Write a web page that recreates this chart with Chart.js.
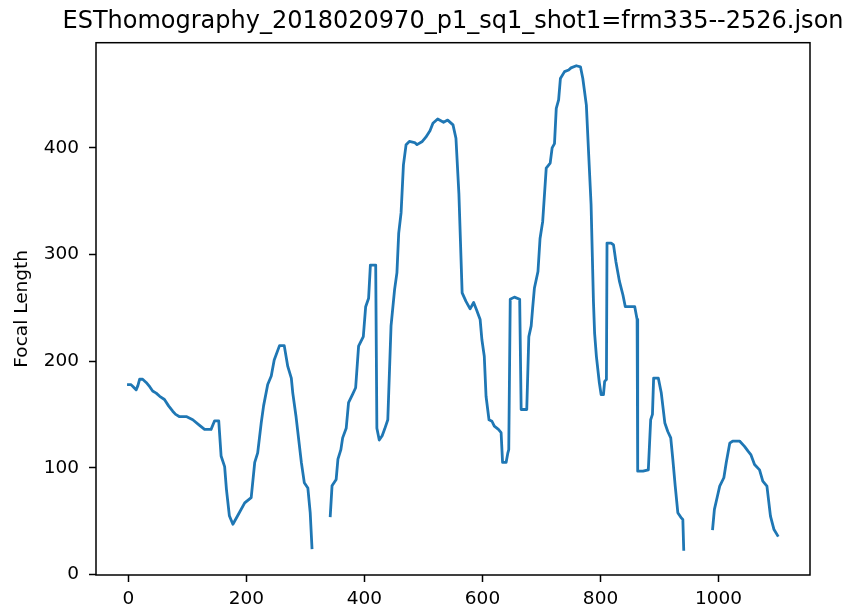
<!DOCTYPE html>
<html>
<head>
<meta charset="utf-8">
<script src="https://cdn.jsdelivr.net/npm/chart.js@4"></script>
<style>
  body { margin: 0; background: #fff; }
  canvas { display: block; }
</style>
</head>
<body>
<canvas id="focalChart" width="849" height="609"></canvas>
<script>
// frame index / focal length, null marks a gap in the track
const frames = [
  0, 4, 8, 13, 16, 19, 24, 30, 36, 41, 47, 53, 61, 68, 75, 80, 86, 98, 109, 120,
  129, 140, 146, 153, 157, 163, 166, 171, 177, 185, 197, 208, 214, 219, 225, 229,
  236, 242, 247, 256, 264, 270, 276, 278.5, 284, 293, 298, 304, 308, 311,
  325,
  342, 345, 352, 355, 360, 363, 369, 373, 380, 385, 390, 398, 402, 407, 410, 419,
  421, 425, 430, 434, 439.5, 445, 451, 455, 458, 462, 466, 470.5, 476, 485, 489,
  498, 504, 511, 516, 524, 534, 541, 550, 555, 560, 565.5, 572, 579, 585, 590,
  596, 599, 603, 606, 611, 616, 620, 627, 631.5, 634, 640, 643, 644.5, 647, 654,
  663, 665.5, 675, 678.5, 682.5, 685, 688, 694, 697.5, 702, 708, 714.7, 718, 722,
  725, 729, 732, 739, 746, 750, 759, 766, 770, 776, 780, 784, 788, 790, 793, 798,
  801, 805, 807, 810, 811, 818, 822, 826, 832, 838, 842, 858, 862, 863, 872, 881,
  885, 888, 890, 898, 903, 909, 914, 919, 922.5, 926.6, 931, 936.7, 939.5, 941,
  965,
  990, 993, 998, 1002, 1009, 1013, 1019, 1024, 1035.6, 1044, 1050, 1055, 1061,
  1069.5, 1075, 1082, 1088, 1094, 1100
];
const focalLength = [
  178, 178, 176, 173, 177, 183, 183, 180, 176, 172, 170, 167, 164, 158, 153, 150, 148, 148, 145, 140,
  136, 136, 144, 144, 111, 101, 80, 55, 47, 55, 67, 72, 105, 114, 142, 158,
  178, 186, 201, 214.5, 214.5, 195, 184, 170, 148, 105, 86, 81, 58, 25,
  null,
  55, 83, 89, 108, 117, 128, 137, 161, 169, 175, 214, 223, 251, 259, 290, 290,
  137, 126, 130, 136, 145, 233, 267, 283, 320, 339, 384, 403, 406, 405, 403,
  406, 410, 416, 423, 427, 424, 426, 421.5, 409, 357, 264, 256, 249, 255, 248,
  239, 220, 204.5, 167, 145, 143.6, 139, 136, 133, 105, 105, 114, 117, 258, 260,
  258, 154.6, 154.6, 223, 233, 250, 268.6, 284, 315, 331, 381, 385.6, 400, 404,
  437, 445, 465, 471.5, 473, 475, 477, 476, 465, 440, 393, 346.6, 256, 226, 204.5, 179.6,
  168.6, 168.6, 181, 182.7, 310.7, 310.7, 309, 293.5, 275, 262, 251, 251, 239, 96.8, 96.8, 98,
  145, 150, 184, 184, 170, 142, 134, 128, 108, 82.7, 57.8, 53, 51.5, 23.4,
  null,
  42.8, 61, 73, 82.7, 90.6, 104.6, 123, 125, 125, 120, 115.5, 112, 103,
  98, 87.4, 82.7, 54.6, 42, 36.5
];
const xTicks = [0, 200, 400, 600, 800, 1000];
const yTicks = [0, 100, 200, 300, 400];
const chartTitle = 'ESThomography_2018020970_p1_sq1_shot1=frm335--2526.json';

const points = frames.map((f, i) => ({ x: f, y: focalLength[i] }));

// matplotlib style box around the plot area + title centred over the axes
const frameBox = {
  id: 'frameBox',
  afterDraw(chart) {
    const { ctx, chartArea: a } = chart;
    ctx.save();
    ctx.strokeStyle = '#000';
    ctx.lineWidth = 1.5;
    ctx.strokeRect(a.left, a.top, a.right - a.left, a.bottom - a.top);
    ctx.fillStyle = '#000';
    ctx.font = '24px "DejaVu Sans"';
    ctx.textAlign = 'center';
    ctx.textBaseline = 'alphabetic';
    ctx.fillText(chartTitle, (a.left + a.right) / 2, a.top - 14.4);
    ctx.restore();
  }
};

const tickFont = { family: 'DejaVu Sans', size: 18.5 };

new Chart(document.getElementById('focalChart').getContext('2d'), {
  type: 'line',
  data: {
    datasets: [{
      data: points,
      borderColor: '#1f77b4',
      borderWidth: 2.8,
      borderJoinStyle: 'round',
      borderCapStyle: 'square',
      pointRadius: 0,
      tension: 0,
      spanGaps: false,
      fill: false
    }]
  },
  options: {
    responsive: false,
    animation: false,
    layout: { padding: { left: 0, right: 39, top: 42.7, bottom: 0 } },
    plugins: {
      legend: { display: false },
      tooltip: { enabled: false },
      title: { display: false }
    },
    scales: {
      x: {
        type: 'linear',
        min: -55,
        max: 1155,
        afterBuildTicks: s => { s.ticks = xTicks.map(v => ({ value: v })); },
        afterFit: s => { s.height = 34; },
        grid: { drawOnChartArea: false, tickLength: 7, tickColor: '#000', tickWidth: 1.5 },
        border: { display: false },
        ticks: { color: '#000', font: tickFont, padding: 6, maxRotation: 0, callback: v => String(v) }
      },
      y: {
        min: -0.6,
        max: 498.6,
        afterBuildTicks: s => { s.ticks = yTicks.map(v => ({ value: v })); },
        afterFit: s => { s.width = 96; },
        grid: { drawOnChartArea: false, tickLength: 7, tickColor: '#000', tickWidth: 1.5 },
        border: { display: false },
        ticks: { color: '#000', font: tickFont, padding: 10, callback: v => String(v) },
        title: {
          display: true,
          text: 'Focal Length',
          color: '#000',
          font: tickFont,
          padding: { top: 11, bottom: 0 }
        }
      }
    }
  },
  plugins: [frameBox]
});
</script>
</body>
</html>
